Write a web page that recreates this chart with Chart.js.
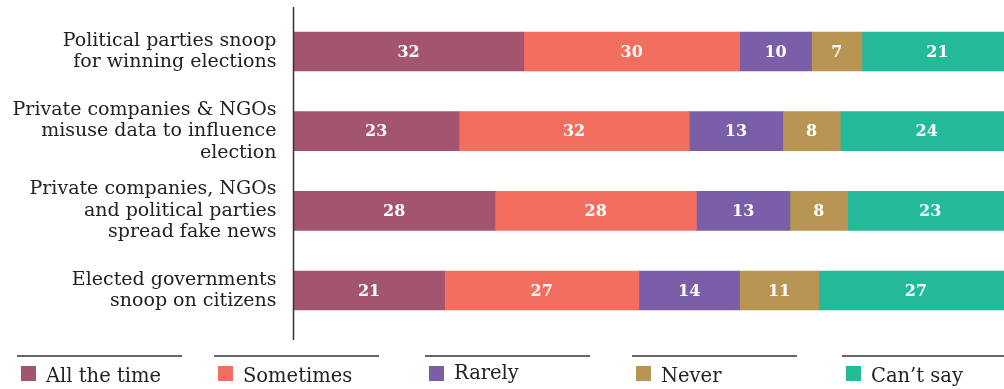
<!DOCTYPE html>
<html>
<head>
<meta charset="utf-8">
<script src="https://cdn.jsdelivr.net/npm/chart.js@4/dist/chart.umd.min.js"></script>
<style>
  html, body { margin: 0; padding: 0; overflow: hidden; background: #fff; }
  #wrap { width: 1004px; height: 389px; overflow: hidden; }
  canvas { display: block; }
</style>
</head>
<body>
<div id="wrap"><canvas id="c" width="1014" height="389"></canvas></div>
<script>
// Survey statements (one per bar)
const categories = [
  ["Political parties snoop", "for winning elections"],
  ["Private companies & NGOs", "misuse data to influence", "election"],
  ["Private companies, NGOs", "and political parties", "spread fake news"],
  ["Elected governments", "snoop on citizens"]
];

// Share of respondents (%) per answer
const allTheTime = [32, 23, 28, 21];
const sometimes  = [30, 32, 28, 27];
const rarely     = [10, 13, 13, 14];
const never      = [7, 8, 8, 11];
const cantSay    = [21, 24, 23, 27];

const seriesNames  = ["All the time", "Sometimes", "Rarely", "Never", "Can\u2019t say"];
const seriesColors = ["#A3546F", "#F26E5E", "#7A5FA8", "#B89552", "#23BA9A"];
const seriesValues = [allTheTime, sometimes, rarely, never, cantSay];

const LABEL_FONT = "'DejaVu Serif', serif";

// White value labels centred in each segment
const valueLabels = {
  id: 'valueLabels',
  afterDatasetsDraw(chart) {
    const ctx = chart.ctx;
    ctx.save();
    ctx.fillStyle = '#ffffff';
    ctx.font = "bold 16px " + LABEL_FONT;
    ctx.textAlign = 'center';
    ctx.textBaseline = 'middle';
    chart.data.datasets.forEach((ds, i) => {
      const meta = chart.getDatasetMeta(i);
      meta.data.forEach((el, j) => {
        const cx = (el.x + el.base) / 2;
        ctx.fillText(String(ds.data[j]), cx, el.y + 1);
      });
    });
    ctx.restore();
  }
};

// Vertical baseline at the left of the bars
const baseLine = {
  id: 'baseLine',
  afterDraw(chart) {
    const ctx = chart.ctx;
    const x = Math.round(chart.chartArea.left) - 0.5;
    ctx.save();
    ctx.strokeStyle = '#333333';
    ctx.lineWidth = 1.5;
    ctx.beginPath();
    ctx.moveTo(x, 7);
    ctx.lineTo(x, 340);
    ctx.stroke();
    ctx.restore();
  }
};

// Bottom legend: rule above each entry, square swatch, label
const ruledLegend = {
  id: 'ruledLegend',
  afterDraw(chart) {
    const ctx = chart.ctx;
    const starts = [17, 214, 425, 632, 842];
    const ruleW = 165;
    ctx.save();
    chart.data.datasets.forEach((ds, i) => {
      const x0 = starts[i];
      ctx.fillStyle = '#666666';
      ctx.fillRect(x0, 355, i === 4 ? 200 : ruleW, 2);
      ctx.fillStyle = ds.backgroundColor;
      ctx.fillRect(x0 + 4, 366, 15, 15);
      ctx.fillStyle = '#222222';
      ctx.font = "19.5px " + LABEL_FONT;
      ctx.textAlign = 'left';
      ctx.textBaseline = 'alphabetic';
      ctx.fillText(ds.label, x0 + 29, i === 2 ? 379 : 382);
    });
    ctx.restore();
  }
};

new Chart(document.getElementById('c'), {
  type: 'bar',
  data: {
    labels: categories,
    datasets: seriesNames.map((name, i) => ({
      label: name,
      data: seriesValues[i],
      backgroundColor: seriesColors[i],
      borderWidth: 0,
      barThickness: 39
    }))
  },
  options: {
    indexAxis: 'y',
    responsive: false,
    animation: false,
    devicePixelRatio: 1,
    layout: { padding: { top: 11.7, bottom: 58.7, left: 0, right: 1 } },
    plugins: {
      legend: { display: false },
      tooltip: { enabled: false }
    },
    scales: {
      x: {
        stacked: true,
        min: 0,
        max: 100,
        display: false
      },
      y: {
        stacked: true,
        grid: { display: false, drawTicks: false },
        border: { display: false },
        afterFit(scale) {
          scale.width = 293.5;
          scale.paddingTop = 0;
          scale.paddingBottom = 0;
        },
        ticks: {
          color: '#222222',
          padding: 17,
          font: { family: LABEL_FONT, size: 19, lineHeight: 21.5 / 19 }
        }
      }
    }
  },
  plugins: [valueLabels, baseLine, ruledLegend]
});
</script>
</body>
</html>
